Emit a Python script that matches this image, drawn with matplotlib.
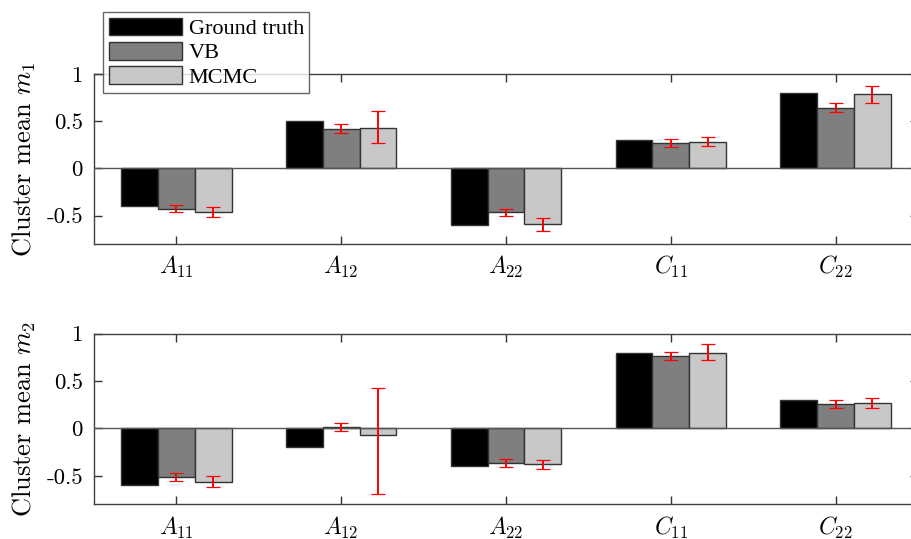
import numpy as np
import matplotlib
matplotlib.use("Agg")
import matplotlib.pyplot as plt
from matplotlib.patches import Patch

plt.rcParams['font.family'] = ['Liberation Serif', 'DejaVu Serif']
plt.rcParams['mathtext.fontset'] = 'cm'
plt.rcParams['axes.unicode_minus'] = False

# categories and series
params = [r'$A_{11}$', r'$A_{12}$', r'$A_{22}$', r'$C_{11}$', r'$C_{22}$']
series_names = ['Ground truth', 'VB', 'MCMC']
series_colors = ['#000000', '#7f7f7f', '#c8c8c8']

# cluster 1
m1_truth = [-0.40, 0.50, -0.60, 0.30, 0.80]
m1_vb = [-0.43, 0.42, -0.465, 0.27, 0.64]
m1_mcmc = [-0.46, 0.43, -0.59, 0.285, 0.785]
m1_vb_lo = [-0.46, 0.38, -0.50, 0.23, 0.60]
m1_vb_hi = [-0.39, 0.47, -0.43, 0.31, 0.69]
m1_mcmc_lo = [-0.51, 0.27, -0.665, 0.24, 0.69]
m1_mcmc_hi = [-0.41, 0.61, -0.52, 0.33, 0.87]

# cluster 2
m2_truth = [-0.60, -0.20, -0.40, 0.80, 0.30]
m2_vb = [-0.517, 0.018, -0.366, 0.765, 0.257]
m2_mcmc = [-0.56, -0.07, -0.38, 0.80, 0.264]
m2_vb_lo = [-0.555, -0.03, -0.41, 0.72, 0.215]
m2_vb_hi = [-0.47, 0.06, -0.32, 0.81, 0.30]
m2_mcmc_lo = [-0.615, -0.69, -0.43, 0.725, 0.22]
m2_mcmc_hi = [-0.50, 0.43, -0.33, 0.89, 0.32]

yticks = [-0.5, 0, 0.5, 1]
ytick_labels = ['-0.5', '0', '0.5', '1']

fig = plt.figure(figsize=(9.11, 5.39), dpi=100)
ax_top = fig.add_axes([0.1032, 0.5473, 0.9045, 0.3154])
ax_bot = fig.add_axes([0.1032, 0.0644, 0.9045, 0.3165])

x = np.arange(1, len(params) + 1)
w = 0.223
edge = '#333333'


def draw_panel(ax, vals, errs, label):
    for i, (v, c) in enumerate(zip(vals, series_colors)):
        ax.bar(x + (i - 1) * w, v, width=w, color=c, edgecolor=edge,
               linewidth=1.0, zorder=2)
    for i, (lo, hi) in zip([1, 2], errs):
        lo = np.array(lo)
        hi = np.array(hi)
        mid = (lo + hi) / 2
        half = (hi - lo) / 2
        _, caps, bars = ax.errorbar(x + (i - 1) * w, mid, yerr=half, fmt='none',
                                    ecolor='red', elinewidth=1.4, capsize=5,
                                    capthick=0.9, zorder=4)
        for cap in caps:
            cap.set_color('#ff9c9c')
    ax.axhline(0, color='#555555', linewidth=1.0, zorder=3)
    ax.set_xlim(0.5, 5.5)
    ax.set_ylim(-0.8, 1.0)
    ax.set_xticks(x)
    ax.set_xticklabels(params, fontsize=17)
    ax.set_yticks(yticks)
    ax.set_yticklabels(ytick_labels, fontsize=16.5, family='cmr10')
    ax.tick_params(axis='x', direction='in', top=True, bottom=True, length=6,
                   width=1, color='#333333', pad=7.5)
    ax.tick_params(axis='y', direction='in', left=True, right=True, length=6,
                   width=1, color='#333333', pad=8)
    for s in ax.spines.values():
        s.set_color('#404040')
        s.set_linewidth(1.0)
    ax.set_ylabel(label, fontsize=19, family='cmr10', labelpad=6)


draw_panel(ax_top, [m1_truth, m1_vb, m1_mcmc],
           [(m1_vb_lo, m1_vb_hi), (m1_mcmc_lo, m1_mcmc_hi)],
           r'Cluster mean $m_1$')
draw_panel(ax_bot, [m2_truth, m2_vb, m2_mcmc],
           [(m2_vb_lo, m2_vb_hi), (m2_mcmc_lo, m2_mcmc_hi)],
           r'Cluster mean $m_2$')

handles = [Patch(facecolor=c, edgecolor=edge, linewidth=1.0) for c in series_colors]
leg = fig.legend(handles, series_names, loc='upper left',
                 bbox_to_anchor=(103 / 911, 1 - 12 / 539), fontsize=16,
                 frameon=True, fancybox=False, handlelength=3.3,
                 handleheight=0.85, labelspacing=0.12, handletextpad=0.3,
                 borderpad=0.25, borderaxespad=0)
leg.get_frame().set_edgecolor('#404040')
leg.get_frame().set_linewidth(1.0)

fig.savefig('out.png', dpi=100)
